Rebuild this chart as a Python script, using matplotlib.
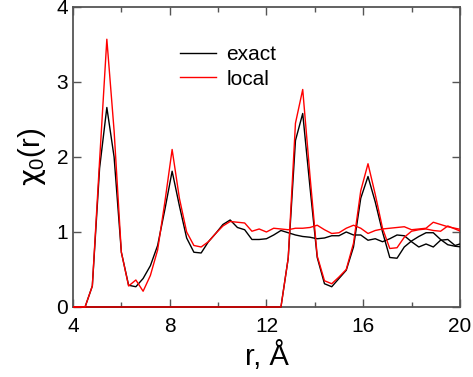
import numpy as np
import matplotlib
matplotlib.use("Agg")
import matplotlib.pyplot as plt
from matplotlib.ticker import MultipleLocator
from matplotlib.transforms import Bbox, TransformedBbox

plt.rcParams['font.family'] = ['Liberation Sans', 'DejaVu Sans']
plt.rcParams['mathtext.fontset'] = 'custom'
plt.rcParams['mathtext.rm'] = 'Liberation Sans'
plt.rcParams['mathtext.it'] = 'DejaVu Sans'

# radial grid, 0.3 A steps
r = np.round(np.arange(3.9, 20.15, 0.3), 1)

# first shell set
exact_a = [0, 0,
           0, 0.28, 1.85, 2.66, 2.00, 0.73, 0.29, 0.27, 0.38, 0.55,
           0.82, 1.30, 1.81, 1.35, 0.92, 0.73, 0.72, 0.87, 0.98, 1.10,
           1.16, 1.06, 1.03, 0.90, 0.90, 0.91, 0.96, 1.02, 0.99, 0.96,
           0.94, 0.93, 0.91, 0.92, 0.95, 0.95, 1.00, 0.96, 0.96, 0.89,
           0.91, 0.87, 0.91, 0.96, 0.95, 0.87, 0.80, 0.84, 0.80, 0.89,
           0.90, 0.82, 0.85]
local_a = [0, 0,
           0, 0.28, 1.95, 3.57, 2.35, 0.73, 0.28, 0.36, 0.21, 0.42,
           0.76, 1.40, 2.10, 1.45, 1.00, 0.82, 0.80, 0.87, 0.98, 1.08,
           1.14, 1.13, 1.12, 1.01, 1.04, 1.00, 1.05, 1.04, 1.03, 1.05,
           1.05, 1.06, 1.09, 1.03, 0.98, 0.99, 1.05, 1.09, 1.05, 0.98,
           1.02, 1.04, 1.05, 1.06, 1.07, 1.03, 1.04, 1.05, 1.13, 1.10,
           1.07, 1.05, 1.03]

# second shell set
exact_b = [0, 0,
           0, 0, 0, 0, 0, 0, 0, 0, 0, 0,
           0, 0, 0, 0, 0, 0, 0, 0, 0, 0,
           0, 0, 0, 0, 0, 0, 0, 0, 0.65, 2.22,
           2.58, 1.60, 0.66, 0.31, 0.27, 0.38, 0.49, 0.80, 1.45, 1.74,
           1.40, 1.00, 0.66, 0.65, 0.80, 0.88, 0.94, 0.99, 0.99, 0.90,
           0.83, 0.81, 0.80]
local_b = [0, 0,
           0, 0, 0, 0, 0, 0, 0, 0, 0, 0,
           0, 0, 0, 0, 0, 0, 0, 0, 0, 0,
           0, 0, 0, 0, 0, 0, 0, 0, 0.65, 2.45,
           2.90, 1.75, 0.68, 0.35, 0.31, 0.40, 0.50, 0.85, 1.55, 1.91,
           1.50, 1.05, 0.78, 0.79, 0.93, 1.01, 1.03, 1.04, 1.02, 1.01,
           1.08, 1.04, 1.00]

fig = plt.figure(figsize=(4.73, 3.77), dpi=100)
ax = fig.add_axes([0.1543, 0.1857, 0.818, 0.7958])

lines = []
lines += ax.plot(r, exact_a, color='black', lw=1.0, label='exact')
lines += ax.plot(r, exact_b, color='black', lw=1.0)
lines += ax.plot(r, local_a, color='red', lw=1.0, label='local')
lines += ax.plot(r, local_b, color='red', lw=1.0)

ax.set_xlim(4, 20)
ax.set_ylim(0, 4)

# let the zero baseline show over the bottom spine
clip = TransformedBbox(Bbox([[4, -0.05], [20, 4]]), ax.transData)
for ln in lines:
    ln.set_clip_box(clip)
    ln.set_zorder(3)

ax.xaxis.set_major_locator(MultipleLocator(4))
ax.xaxis.set_minor_locator(MultipleLocator(2))
ax.yaxis.set_major_locator(MultipleLocator(1))
ax.tick_params(which='both', direction='in', top=True, right=True,
               labelsize=15, color='#555555', width=1.0)
ax.tick_params(axis='x', pad=7)
ax.tick_params(axis='y', pad=3.5)
ax.tick_params(which='major', length=6)
ax.tick_params(which='minor', length=3.5)
for s in ax.spines.values():
    s.set_color('#555555')
    s.set_linewidth(1.3)

ax.set_xlabel('r, Å', fontsize=21, labelpad=4)
ax.set_ylabel(r'$\chi_\mathrm{0}$(r)', fontsize=21, labelpad=6)

ax.legend(loc='upper left', bbox_to_anchor=(0.256, 0.90), frameon=False,
          fontsize=15, handlelength=1.7, handletextpad=0.5,
          labelspacing=0.25, borderaxespad=0)

fig.savefig('out.png', dpi=100)
